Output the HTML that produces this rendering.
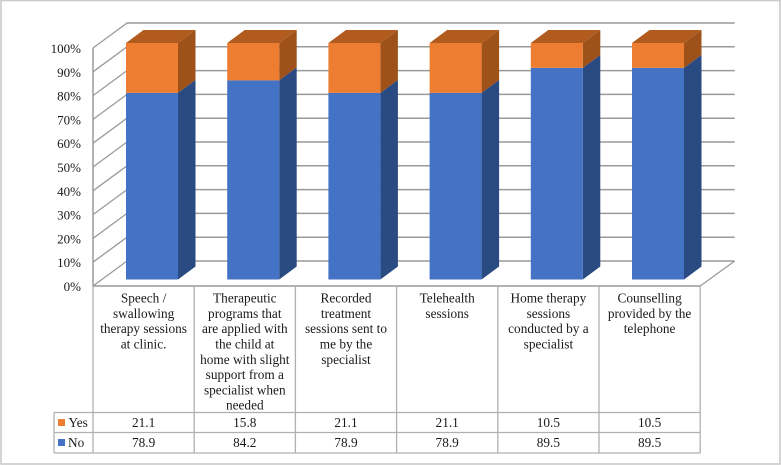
<!DOCTYPE html>
<html lang="en">
<head>
<meta charset="utf-8">
<title>Stacked 3D column chart</title>
<style>
html,body{margin:0;padding:0;background:#fff;width:781px;height:465px;overflow:hidden}
svg{display:block;font-family:"Liberation Serif",serif}
text{fill:#1a1a1a}
</style>
</head>
<body>
<svg id="chart" width="781" height="465" viewBox="0 0 781 465" xmlns="http://www.w3.org/2000/svg">
<g id="root" style="filter:blur(0.35px)"></g>
</svg>
<script>
const categories = [
  ["Speech /", "swallowing", "therapy sessions", "at clinic."],
  ["Therapeutic", "programs that", "are applied with", "the child at", "home with slight", "support from a", "specialist when", "needed"],
  ["Recorded", "treatment", "sessions sent to", "me by the", "specialist"],
  ["Telehealth", "sessions"],
  ["Home therapy", "sessions", "conducted by a", "specialist"],
  ["Counselling", "provided by the", "telephone"]
];
const yesValues = [21.1, 15.8, 21.1, 21.1, 10.5, 10.5];
const noValues = [78.9, 84.2, 78.9, 78.9, 89.5, 89.5];
const yTicks = [0, 10, 20, 30, 40, 50, 60, 70, 80, 90, 100];

const root = document.getElementById('root');
const NS = 'http://www.w3.org/2000/svg';
function add(tag, attrs, name, txt) {
  const el = document.createElementNS(NS, tag);
  for (const k in attrs) el.setAttribute(k, attrs[k]);
  
  
  if (txt !== undefined) el.textContent = txt;
  root.appendChild(el);
  return el;
}
const DX = 34, DY = -25;
const frontLeft = 93, colW = 101.2;
function yFront(v) { return 286 - v * 2.38; }
function yBar(v) { return 279.5 - v * 2.365; }
function xCol(i) { return frontLeft + i * colW; }
function xBar(i) { return 126 + i * colW; }
const tableRight = xCol(categories.length);
const BW = 52, BDX = 17.5, BDY = -13;
const GRID = '#9a9a9a', TABLE = '#b0b0b0';

add('rect', {x: 1, y: 0.5, width: 779, height: 463.5, fill: '#fff', stroke: '#cacaca', 'stroke-width': 1.6}, 'chart-frame');

/* walls and gridlines */
yTicks.forEach(function (t) {
  const y = yFront(t);
  add('line', {x1: frontLeft + DX, y1: y + DY, x2: tableRight + DX + 0.5, y2: y + DY, stroke: GRID, 'stroke-width': 1.5}, 'gridline-' + t);
  add('line', {x1: frontLeft, y1: y, x2: frontLeft + DX, y2: y + DY, stroke: GRID, 'stroke-width': 1.3}, 'side-wall-gridline-' + t);
  add('text', {x: 81, y: y + 5, 'text-anchor': 'end', 'font-size': 13}, 'y-tick-label-' + t, t + '%');
});
add('line', {x1: frontLeft, y1: yFront(100), x2: frontLeft, y2: yFront(0), stroke: GRID, 'stroke-width': 1.5}, 'y-axis-line');
add('line', {x1: tableRight, y1: yFront(0), x2: tableRight + DX + 0.5, y2: yFront(0) + DY, stroke: GRID, 'stroke-width': 1.3}, 'floor-right-edge');

/* bars */
function face(points, fill, name) {
  add('polygon', {points: points.map(function (p) { return p.join(','); }).join(' '), fill: fill}, name);
}
categories.forEach(function (c, i) {
  const x = xBar(i), r = x + BW;
  const y0 = yBar(0), y1 = yBar(noValues[i]), y2 = yBar(noValues[i] + yesValues[i]);
  face([[r, y0], [r + BDX, y0 + BDY], [r + BDX, y1 + BDY], [r, y1]], '#2a4a82', 'bar-no-side-' + i);
  face([[r, y1], [r + BDX, y1 + BDY], [r + BDX, y2 + BDY], [r, y2]], '#9e5219', 'bar-yes-side-' + i);
  face([[x, y2], [x + BDX, y2 + BDY], [r + BDX, y2 + BDY], [r, y2]], '#b15b1f', 'bar-yes-top-' + i);
  add('rect', {x: x, y: y1, width: BW, height: y0 - y1, fill: '#4472c4'}, 'bar-no-' + i);
  add('rect', {x: x, y: y2, width: BW, height: y1 - y2, fill: '#ed7d31'}, 'bar-yes-' + i);
});

/* data table */
const tTop = 286, tYes = 412.5, tNo = 432.5, tBottom = 453, tLeft = 54;
add('line', {x1: frontLeft, y1: tTop, x2: tableRight, y2: tTop, stroke: GRID, 'stroke-width': 1.5}, 'table-top-line');
[tYes, tNo, tBottom].forEach(function (y, i) {
  add('line', {x1: tLeft, y1: y, x2: tableRight, y2: y, stroke: TABLE, 'stroke-width': 1.3}, 'table-row-line-' + i);
});
add('line', {x1: tLeft, y1: tYes, x2: tLeft, y2: tBottom, stroke: TABLE, 'stroke-width': 1.3}, 'table-left-line');
for (let i = 0; i <= categories.length; i++) {
  add('line', {x1: xCol(i), y1: tTop, x2: xCol(i), y2: tBottom, stroke: TABLE, 'stroke-width': 1.3}, 'table-column-line-' + i);
}
categories.forEach(function (lines, i) {
  const cx = xCol(i) + colW / 2;
  lines.forEach(function (line, j) {
    add('text', {x: cx, y: 302.6 + j * 15.3, 'text-anchor': 'middle', 'font-size': 13.3}, 'category-label-' + i + '-line-' + j, line);
  });
  add('text', {x: cx, y: 427, 'text-anchor': 'middle', 'font-size': 13.3}, 'yes-value-' + i, yesValues[i].toFixed(1));
  add('text', {x: cx, y: 447, 'text-anchor': 'middle', 'font-size': 13.3}, 'no-value-' + i, noValues[i].toFixed(1));
});
add('rect', {x: 58, y: 419, width: 7, height: 7, fill: '#ed7d31'}, 'legend-swatch-yes');
add('text', {x: 68.5, y: 427, 'font-size': 13.3}, 'legend-label-yes', 'Yes');
add('rect', {x: 58, y: 439, width: 7, height: 7, fill: '#4472c4'}, 'legend-swatch-no');
add('text', {x: 68, y: 447, 'font-size': 13.3}, 'legend-label-no', 'No');
</script>
</body>
</html>
